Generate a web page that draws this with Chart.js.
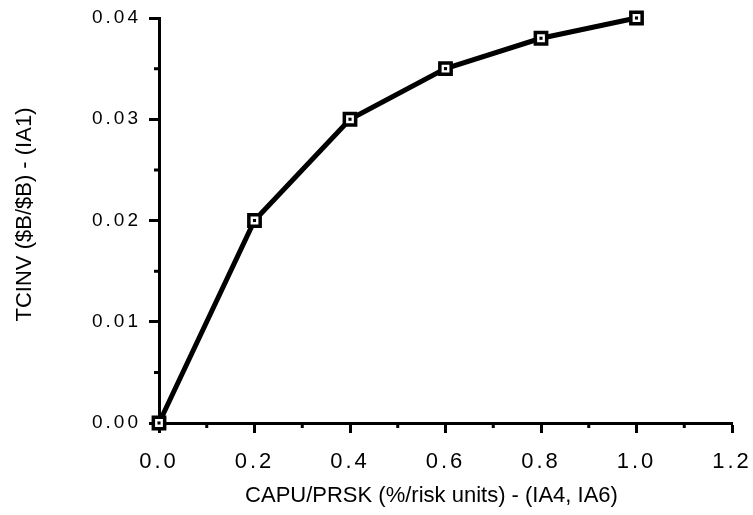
<!DOCTYPE html>
<html>
<head>
<meta charset="utf-8">
<script src="https://cdn.jsdelivr.net/npm/chart.js@4"></script>
<style>
html,body{margin:0;padding:0;background:#fff;}
#wrap{width:753px;height:515px;}
</style>
</head>
<body>
<div id="wrap"><canvas id="c" width="753" height="515"></canvas></div>
<script>
const xValues = [0.0, 0.2, 0.4, 0.6, 0.8, 1.0];
const yValues = [0.000, 0.020, 0.030, 0.035, 0.038, 0.040];
const xMajorTicks = [0.0, 0.2, 0.4, 0.6, 0.8, 1.0, 1.2];
const xMinorTicks = [0.1, 0.3, 0.5, 0.7, 0.9, 1.1];
const yMajorTicks = [0.00, 0.01, 0.02, 0.03, 0.04];
const yMinorTicks = [0.005, 0.015, 0.025, 0.035];
const xTitle = 'CAPU/PRSK (%/risk units) - (IA4, IA6)';
const yTitle = 'TCINV ($B/$B) - (IA1)';

const points = xValues.map((x, i) => ({x: x, y: yValues[i]}));

const titleShift = {x: [-14, 0], y: [0, -6]};

const minorTicksPlugin = {
  id: 'minorTicks',
  afterLayout(chart) {
    ['x', 'y'].forEach(id => {
      const s = chart.scales[id];
      if (s && !s._lsPatched) {
        const origL = s.drawLabels;
        s.drawLabels = function (a) {
          const c = this.ctx;
          const prev = c.letterSpacing;
          c.letterSpacing = '3px';
          origL.call(this, a);
          c.letterSpacing = prev || '0px';
        };
        const origT = s.drawTitle;
        s.drawTitle = function () {
          const c = this.ctx;
          c.save();
          c.translate(titleShift[id][0], titleShift[id][1]);
          origT.call(this);
          c.restore();
        };
        s._lsPatched = true;
      }
    });
  },
  afterDraw(chart) {
    const ctx = chart.ctx;
    const xs = chart.scales.x, ys = chart.scales.y;
    ctx.save();
    ctx.strokeStyle = '#000';
    ctx.lineWidth = 3;
    ctx.beginPath();
    xMinorTicks.forEach(v => {
      const px = xs.getPixelForValue(v);
      ctx.moveTo(px, xs.top);
      ctx.lineTo(px, xs.top + 5);
    });
    yMinorTicks.forEach(v => {
      const py = ys.getPixelForValue(v);
      ctx.moveTo(ys.right, py);
      ctx.lineTo(ys.right - 5, py);
    });
    ctx.stroke();
    ctx.restore();
  }
};

new Chart(document.getElementById('c'), {
  type: 'scatter',
  data: {
    datasets: [
      {
        data: points,
        order: 1,
        showLine: true,
        borderColor: '#000',
        borderWidth: 5,
        tension: 0,
        pointStyle: 'rect',
        pointRadius: 8,
        pointBorderWidth: 3.5,
        pointBorderColor: '#000',
        pointBackgroundColor: '#fff',
        clip: false
      },
      {
        data: points,
        order: 0,
        showLine: false,
        pointStyle: 'rect',
        pointRadius: 2.2,
        pointBorderWidth: 0,
        pointBackgroundColor: '#000',
        clip: false
      }
    ]
  },
  plugins: [minorTicksPlugin],
  options: {
    responsive: false,
    animation: false,
    devicePixelRatio: 1,
    layout: {padding: {left: 8, right: 21, top: 18, bottom: 0}},
    plugins: {legend: {display: false}, tooltip: {enabled: false}},
    scales: {
      x: {
        type: 'linear',
        min: 0, max: 1.2,
        afterFit(s) { s.height = 92; s.paddingLeft = 0; s.paddingRight = 0; },
        afterBuildTicks(s) { s.ticks = xMajorTicks.map(v => ({value: v})); },
        grid: {drawOnChartArea: false, drawTicks: true, tickLength: 10, tickWidth: 3, tickColor: '#000'},
        border: {display: true, color: '#000', width: 3},
        ticks: {
          color: '#000',
          padding: 16,
          maxRotation: 0,
          font: {family: '"Liberation Sans", Arial, sans-serif', size: 22},
          callback: v => v.toFixed(1)
        },
        title: {
          display: true, text: xTitle, color: '#000',
          font: {family: '"Liberation Sans", Arial, sans-serif', size: 22},
          padding: {top: 4, bottom: 6}
        }
      },
      y: {
        type: 'linear',
        min: 0, max: 0.04,
        afterFit(s) { s.width = 151; s.paddingTop = 0; s.paddingBottom = 0; },
        afterBuildTicks(s) { s.ticks = yMajorTicks.map(v => ({value: v})); },
        grid: {drawOnChartArea: false, drawTicks: true, tickLength: 10, tickWidth: 3, tickColor: '#000'},
        border: {display: true, color: '#000', width: 3},
        ticks: {
          color: '#000',
          padding: 8,
          font: {family: '"Liberation Sans", Arial, sans-serif', size: 19},
          callback: v => v.toFixed(2)
        },
        title: {
          display: true, text: yTitle, color: '#000',
          font: {family: '"Liberation Sans", Arial, sans-serif', size: 22},
          padding: {top: 4, bottom: 4}
        }
      }
    }
  }
});
</script>
</body>
</html>
